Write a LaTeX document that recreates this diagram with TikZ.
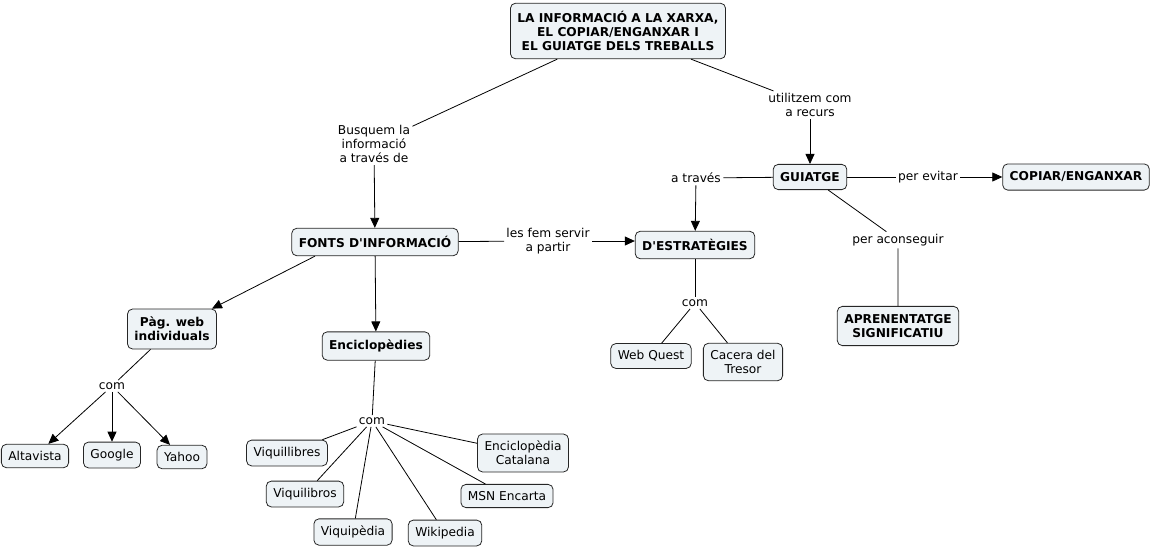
\documentclass[tikz,border=0pt]{standalone}
\usepackage{fontspec}
\setmainfont{DejaVu Sans}
\usetikzlibrary{arrows.meta}
\definecolor{boxfill}{RGB}{238,243,246}
\tikzset{
  concept/.style={draw=black!85,fill=boxfill,rounded corners=5pt,align=center,inner xsep=7pt,inner ysep=8pt,font=\bfseries},
  item/.style={concept,font=\mdseries,inner ysep=7pt},
  link/.style={align=center,inner sep=2pt},
  arr/.style={-{Triangle[length=10pt,width=9pt]}}
}
\begin{document}
\fontsize{12.2}{14}\selectfont
\begin{tikzpicture}[x=1pt,y=-1pt,line width=0.8pt]
  \useasboundingbox (0,0) rectangle (1154,550);
  % concepts
  \node[concept] (top) at (618,31) {LA INFORMACIÓ A LA XARXA,\\EL COPIAR/ENGANXAR I\\EL GUIATGE DELS TREBALLS};
  \node[concept] (fonts) at (375,242) {FONTS D\textquotesingle INFORMACIÓ};
  \node[concept] (estrat) at (695,245) {D\textquotesingle ESTRATÈGIES};
  \node[concept] (guia) at (810,177) {GUIATGE};
  \node[concept] (copiar) at (1076,177) {COPIAR/ENGANXAR};
  \node[concept] (apren) at (898,326) {APRENENTATGE\\SIGNIFICATIU};
  \node[concept] (pag) at (172,329) {Pàg. web\\individuals};
  \node[concept] (encic) at (376,346) {Enciclopèdies};
  \node[item] (alta) at (35,456) {Altavista};
  \node[item] (goog) at (112,455) {Google};
  \node[item] (yahoo) at (182,457) {Yahoo};
  \node[item] (vllib) at (287,453) {Viquillibres};
  \node[item] (vlibro) at (305,494) {Viquilibros};
  \node[item] (vped) at (353,532) {Viquipèdia};
  \node[item] (wiki) at (445,533) {Wikipedia};
  \node[item] (msn) at (507,496) {MSN Encarta};
  \node[item] (ecat) at (523,453) {Enciclopèdia\\Catalana};
  \node[item] (wq) at (651,356) {Web Quest};
  \node[item] (cacera) at (743,362) {Cacera del\\Tresor};
  % linking phrases
  \node[link] (busq) at (374,144) {Busquem la\\informació\\a través de};
  \node[link] (util) at (810,105) {utilitzem com\\a recurs};
  \node[link] (atrav) at (696,178) {a través};
  \node[link] (evitar) at (928,177) {per evitar};
  \node[link] (lesfem) at (548,241) {les fem servir\\a partir};
  \node[link] (acons) at (898,240) {per aconseguir};
  \node[link] (com1) at (112,386) {com};
  \node[link] (com2) at (372,421) {com};
  \node[link] (com3) at (695,303) {com};
  % connectors
  \draw (top) -- (busq);
  \draw[arr] (busq) -- (fonts);
  \draw (top) -- (util);
  \draw[arr] (util) -- (guia);
  \draw (guia) -- (atrav);
  \draw[arr] (atrav) -- (estrat);
  \draw (guia) -- (evitar);
  \draw[arr] (evitar) -- (copiar);
  \draw (guia) -- (acons) -- (apren);
  \draw (fonts) -- (lesfem);
  \draw[arr] (lesfem) -- (lesfem -| estrat.west);
  \draw[arr] ([xshift=-60pt]fonts.south) -- (pag);
  \draw[arr] (fonts) -- (encic);
  \draw (pag) -- (com1);
  \draw[arr] (com1) -- (alta);
  \draw[arr] (com1) -- (goog);
  \draw[arr] (com1) -- (yahoo);
  \draw (encic) -- (com2);
  \draw (com2) -- (vllib)
        (com2) -- (vlibro)
        (com2) -- (vped)
        (com2) -- (wiki)
        (com2) -- (msn)
        (com2) -- (ecat);
  \draw (estrat) -- (com3);
  \draw (com3) -- (wq)
        (com3) -- (cacera);
\end{tikzpicture}
\end{document}
